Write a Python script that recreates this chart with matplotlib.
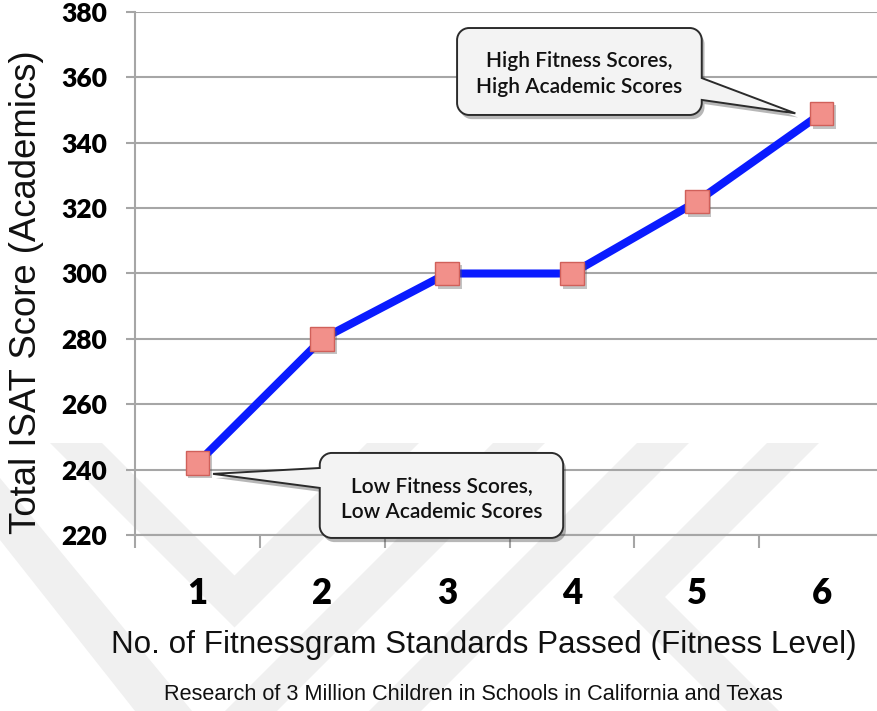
import matplotlib
matplotlib.use("Agg")
import matplotlib.pyplot as plt
import matplotlib.patheffects as pe
from matplotlib.path import Path
from matplotlib.patches import PathPatch, Polygon

# ---- data -------------------------------------------------------------
levels = [1, 2, 3, 4, 5, 6]
isat_scores = [242, 280, 300, 300, 322, 349]
y_ticks = [220, 240, 260, 280, 300, 320, 340, 360, 380]
x_tick_labels = ["1", "2", "3", "4", "5", "6"]

y_label = "Total ISAT Score (Academics)"
x_label = "No. of Fitnessgram Standards Passed (Fitness Level)"
subtitle = "Research of 3 Million Children in Schools in California and Texas"
low_note = "Low Fitness Scores,\nLow Academic Scores"
high_note = "High Fitness Scores,\nHigh Academic Scores"

W, H, DPI = 877, 711, 100
GRID = "#a6a6a6"
TICK_FONT = ["Lato", "DejaVu Sans"]
ARIAL_FONT = ["Liberation Sans", "DejaVu Sans"]

fig = plt.figure(figsize=(W / DPI, H / DPI), dpi=DPI)
fig.patch.set_facecolor("white")

# ---- faint background watermark (pixel space) ---------------------------
bg = fig.add_axes([0, 0, 1, 1], zorder=-5)
bg.set_xlim(0, W)
bg.set_ylim(H, 0)
bg.axis("off")
wm = "#f0f0f0"
bands = [
    [(50, 443), (102, 443), (234.5, 575.5), (367, 443), (419, 443), (234.5, 627.5)],
    [(493, 443), (545, 443), (277, 711), (225, 711)],
    [(637, 443), (689, 443), (421, 711), (369, 711)],
    [(767, 443), (819, 443), (665, 597), (779, 711), (727, 711), (613, 597)],
    [(0, 478), (0, 540), (135, 711), (192, 711)],
]
for b in bands:
    bg.add_patch(Polygon(b, closed=True, facecolor=wm, edgecolor="none"))

# ---- main axes --------------------------------------------------------
left_px, right_px, top_px, bottom_px = 135, 884, 12, 535
ax = fig.add_axes([left_px / W, 1 - bottom_px / H,
                   (right_px - left_px) / W, (bottom_px - top_px) / H])
ax.set_facecolor("none")
ax.set_xlim(0.5, 6.5)
ax.set_ylim(220, 380)

for s in ["top", "right"]:
    ax.spines[s].set_visible(False)
for s in ["left", "bottom"]:
    ax.spines[s].set_color(GRID)
    ax.spines[s].set_linewidth(1.5)

ax.set_yticks(y_ticks)
ax.set_yticklabels([str(v) for v in y_ticks], fontfamily=TICK_FONT,
                   fontweight="heavy", fontsize=19)
ax.tick_params(axis="y", direction="out", length=6.5, width=1.5, color=GRID,
               pad=13.5)
ax.yaxis.grid(True, color=GRID, linewidth=1.5)
ax.set_axisbelow(True)

ax.set_xticks(levels)
ax.set_xticklabels(x_tick_labels, fontfamily=TICK_FONT, fontweight="heavy",
                   fontsize=25)
ax.set_xticks([v + 0.5 for v in [0] + levels], minor=True)
ax.tick_params(axis="x", which="major", length=0, pad=30)
ax.tick_params(axis="x", which="minor", direction="out", length=9.4,
               width=1.5, color=GRID)

# ---- series -----------------------------------------------------------
ax.plot(levels, isat_scores, color="#0a1bff", linewidth=5.8,
        solid_capstyle="round", solid_joinstyle="round", zorder=3)
ax.plot(levels, isat_scores, linestyle="none", marker="s", markersize=17,
        markerfacecolor="#f2908a", markeredgecolor="#d0605a",
        markeredgewidth=1.0, zorder=4,
        path_effects=[pe.SimplePatchShadow(offset=(2, -2.5),
                                           shadow_rgbFace="#555555",
                                           alpha=0.35),
                      pe.Normal()])


# ---- callouts ---------------------------------------------------------
def callout(x0, x1, y0, y1, side, b0, b1, tip, rpx=12):
    rx = rpx * (6.0 / (right_px - left_px))
    ry = rpx * (160.0 / (bottom_px - top_px))
    k = 0.5523
    V, C = [], []

    def mv(p):
        V.append(p); C.append(Path.MOVETO)

    def ln(p):
        V.append(p); C.append(Path.LINETO)

    def cv(c1, c2, p):
        V.extend([c1, c2, p]); C.extend([Path.CURVE4] * 3)

    mv((x0 + rx, y0))
    ln((x1 - rx, y0))
    cv((x1 - rx + k * rx, y0), (x1, y0 + ry - k * ry), (x1, y0 + ry))
    if side == "right":
        ln((x1, b0)); ln(tip); ln((x1, b1))
    ln((x1, y1 - ry))
    cv((x1, y1 - ry + k * ry), (x1 - rx + k * rx, y1), (x1 - rx, y1))
    ln((x0 + rx, y1))
    cv((x0 + rx - k * rx, y1), (x0, y1 - ry + k * ry), (x0, y1 - ry))
    if side == "left":
        ln((x0, b1)); ln(tip); ln((x0, b0))
    ln((x0, y0 + ry))
    cv((x0, y0 + ry - k * ry), (x0 + rx - k * rx, y0), (x0 + rx, y0))
    V.append((x0 + rx, y0)); C.append(Path.CLOSEPOLY)
    patch = PathPatch(Path(V, C), facecolor="#f3f3f3", edgecolor="#2b2b2b",
                      linewidth=1.4, clip_on=False, zorder=5,
                      path_effects=[pe.SimplePatchShadow(offset=(2, -3),
                                                         shadow_rgbFace="#333333",
                                                         alpha=0.35),
                                    pe.Normal()])
    ax.add_patch(patch)


low_tip = (levels[0] + 0.125, isat_scores[0] - 3.3)
callout(1.98, 3.93, 219.1, 245.1, "left", 234.4, 240.5, low_tip)
ax.text(2.955, 231.0, low_note, ha="center", va="center", fontsize=15,
        fontfamily=TICK_FONT, fontweight="semibold", linespacing=1.35,
        color="#111111", zorder=6)

high_tip = (levels[5] - 0.21, isat_scores[5])
callout(3.08, 5.04, 348.5, 375.1, "right", 353.1, 359.8, high_tip)
ax.text(4.06, 361.0, high_note, ha="center", va="center", fontsize=15,
        fontfamily=TICK_FONT, fontweight="semibold", linespacing=1.35,
        color="#111111", zorder=6)

# ---- titles -----------------------------------------------------------
fig.text(27 / W, 1 - 292 / H, y_label, rotation=90, ha="center",
         va="center", fontsize=26.3, fontfamily=ARIAL_FONT, color="#111111")
fig.text(484 / W, 1 - 653 / H, x_label, ha="center", va="baseline",
         fontsize=22.6, fontfamily=ARIAL_FONT, color="#111111")
fig.text(473.5 / W, 1 - 700 / H, subtitle, ha="center", va="baseline",
         fontsize=15.6, fontfamily=ARIAL_FONT, color="#111111")

fig.savefig("out.png", dpi=DPI)
